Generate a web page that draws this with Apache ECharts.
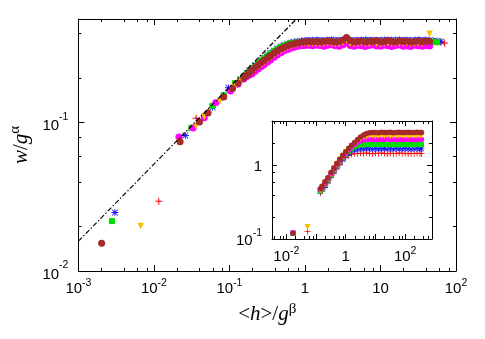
<!DOCTYPE html>
<html><head><meta charset="utf-8">
<script src="https://cdn.jsdelivr.net/npm/echarts@6/dist/echarts.min.js"></script>
<style>html,body{margin:0;padding:0;background:#fff}#c{width:485px;height:339px}</style>
</head><body><div id="c"></div>
<script>
// ---------------- main panel data ----------------
const lateX = [0.2,0.22,0.24,0.265,0.29,0.32,0.35,0.39,0.43,0.48,0.53,0.59,0.65,0.72,0.8,0.9,1.0,1.12,1.26,1.41,1.58,1.78,2.0,2.24,2.51,2.82,3.16,3.55,3.98,4.47,5.01,5.62,6.31,7.08,7.94,8.91,10,11.2,12.6,14.1,15.8,17.8,20,22.4,25.1,28.2,31.6,35.5,39.8,44.7,50.1,56.2,63.1,70.8,79.4];

const redEarlyX = [0.0116,0.0362,0.052,0.075,0.103,0.13,0.155,0.17,0.185];
const redEarlyY = [0.0295,0.107,0.118,0.142,0.168,0.19,0.207,0.216,0.226];
const redLateY = [0.229,0.24,0.25,0.26,0.27,0.281,0.291,0.302,0.312,0.321,0.329,0.336,0.341,0.345,0.348,0.35,0.352,0.353,0.352,0.354,0.353,0.351,0.354,0.355,0.353,0.352,0.354,0.356,0.353,0.351,0.354,0.353,0.355,0.352,0.354,0.353,0.351,0.355,0.353,0.354,0.352,0.355,0.353,0.354,0.351,0.353,0.355,0.352,0.354,0.353,0.351,0.35,0.348,0.345,null];

const blueEarlyX = [0.00304,0.026,0.04,0.0596,0.084,0.097,0.119,0.14,0.155,0.17,0.185];
const blueEarlyY = [0.0248,0.082,0.103,0.127,0.152,0.172,0.18,0.196,0.205,0.215,0.225];
const blueLateY = [0.232,0.243,0.253,0.264,0.274,0.285,0.295,0.306,0.316,0.326,0.334,0.341,0.346,0.35,0.353,0.356,0.358,0.36,0.359,0.361,0.36,0.358,0.361,0.362,0.36,0.359,0.361,0.363,0.36,0.358,0.361,0.36,0.362,0.359,0.361,0.36,0.358,0.362,0.36,0.361,0.359,0.362,0.36,0.361,0.358,0.36,0.362,0.359,0.361,0.36,0.356,0.354,0.352,null,null];

const greenEarlyX = [0.00278,0.0312,0.0463,0.0596,0.084,0.119,0.14,0.155,0.17,0.185];
const greenEarlyY = [0.0217,0.0925,0.11,0.13,0.153,0.185,0.195,0.203,0.213,0.222];
const greenLateY = [0.23,0.241,0.251,0.262,0.272,0.283,0.293,0.304,0.314,0.323,0.331,0.338,0.343,0.345,0.347,0.349,0.35,0.351,0.35,0.352,0.351,0.349,0.352,0.353,0.351,0.35,0.352,0.355,0.351,0.349,0.352,0.351,0.353,0.35,0.352,0.351,0.349,0.353,0.351,0.352,0.35,0.353,0.351,0.352,0.349,0.351,0.353,0.35,0.352,0.351,0.35,0.349,null,null,null];

const magentaEarlyX = [0.0214,0.033,0.0463,0.0658,0.103,0.13,0.155,0.17,0.185];
const magentaEarlyY = [0.080,0.092,0.108,0.136,0.1637,0.182,0.197,0.205,0.21];
const magentaLateY = [0.214,0.222,0.23,0.239,0.247,0.256,0.265,0.276,0.286,0.296,0.305,0.312,0.318,0.323,0.327,0.33,0.332,0.333,0.33,0.334,0.331,0.328,0.333,0.335,0.33,0.328,0.334,0.345,0.332,0.327,0.333,0.33,0.326,0.332,0.335,0.329,0.327,0.333,0.33,0.326,0.332,0.334,0.328,0.33,0.326,0.333,0.33,0.327,0.331,0.329,null,null,null,null,null];

const yellowEarlyX = [0.00667,0.0214,0.036,0.0463,0.075,0.119,0.14,0.155,0.17,0.185];
const yellowEarlyY = [0.0201,0.0735,0.095,0.1095,0.14,0.177,0.19,0.2,0.208,0.215];
const yellowLateY = [0.22,0.229,0.237,0.247,0.256,0.265,0.275,0.286,0.296,0.306,0.314,0.321,0.327,0.332,0.336,0.338,0.34,0.341,0.34,0.342,0.339,0.341,0.343,0.34,0.338,0.341,0.346,0.36,0.342,0.338,0.341,0.343,0.339,0.341,0.344,0.34,0.338,0.342,0.345,0.34,0.339,0.342,0.341,0.344,0.339,0.342,0.343,0.34,0.348,0.398,null,null,null,null,null];

const brownEarlyX = [0.00203,0.0222,0.04,0.052,0.084,0.11,0.13,0.155,0.17,0.185];
const brownEarlyY = [0.0154,0.0745,0.101,0.116,0.149,0.17,0.185,0.2,0.209,0.218];
const brownLateY = [0.226,0.236,0.245,0.255,0.264,0.274,0.284,0.295,0.305,0.315,0.323,0.33,0.336,0.341,0.345,0.348,0.35,0.352,0.351,0.353,0.35,0.352,0.355,0.353,0.35,0.352,0.36,0.375,0.358,0.35,0.352,0.355,0.35,0.354,0.352,0.358,0.35,0.353,0.358,0.352,0.35,0.355,0.352,0.356,0.35,0.353,0.355,0.351,0.354,0.352,null,null,null,null,null];

// reference power-law line (dash-dot), end points
const fitLineX = [0.001, 0.77];
const fitLineY = [0.0159, 0.5];

// ---------------- inset data ----------------
const insetX = [0.0168,0.052,0.14,0.16,0.2,0.25,0.32,0.4,0.5,0.63,0.79,1,1.26,1.58,2,2.51,3.16,3.98,5.01,6.31,7.94,10,12.6,15.8,20,25.1,31.6,39.8,50.1,63.1,79.4,100,126,158,200,251,316,355];
const redInsetY = [null,0.126,0.42,0.45,0.5,0.58,0.68,0.78,0.9,1.02,1.15,1.27,1.36,1.41,1.44,1.45,1.46,1.44,1.47,1.45,1.43,1.46,1.44,1.47,1.45,1.43,1.46,1.44,1.45,1.47,1.44,1.46,1.43,1.45,1.44,1.46,1.45,1.44];
const blueInsetY = [0.121,null,0.44,0.47,0.53,0.61,0.72,0.83,0.95,1.08,1.21,1.34,1.46,1.56,1.62,1.66,1.68,1.67,1.69,1.68,1.66,1.69,1.67,1.68,1.7,1.67,1.68,1.66,1.69,1.68,1.67,1.69,1.68,1.66,1.68,1.69,1.67,1.68];
const greenInsetY = [0.119,null,0.45,0.48,0.55,0.63,0.74,0.86,0.98,1.12,1.26,1.4,1.54,1.67,1.78,1.85,1.9,1.92,1.91,1.93,1.92,1.9,1.93,1.91,1.92,1.94,1.91,1.92,1.9,1.93,1.92,1.91,1.93,1.92,1.9,1.92,1.93,1.91];
const magentaInsetY = [0.122,null,0.47,0.5,0.57,0.65,0.77,0.89,1.02,1.16,1.31,1.46,1.62,1.78,1.93,2.06,2.16,2.22,2.24,2.26,2.25,2.23,2.26,2.24,2.25,2.27,2.24,2.25,2.23,2.26,2.25,2.24,2.26,2.25,2.23,2.25,2.26,2.24];
const yellowInsetY = [null,0.146,0.46,0.51,0.58,0.66,0.78,0.91,1.04,1.19,1.34,1.5,1.66,1.83,2.0,2.16,2.3,2.4,2.46,2.5,2.52,2.49,2.51,2.53,2.5,2.52,2.49,2.51,2.53,2.5,2.52,2.51,2.49,2.52,2.5,2.53,2.51,2.55];
const brownInsetY = [0.12,null,0.48,0.52,0.6,0.68,0.8,0.92,1.06,1.21,1.37,1.53,1.7,1.87,2.05,2.24,2.42,2.58,2.7,2.76,2.79,2.8,2.78,2.81,2.79,2.8,2.82,2.78,2.8,2.81,2.79,2.8,2.82,2.79,2.8,2.81,2.79,2.8];

// minor tick values (log axes, 2,4,6,8 per decade)
const mainMinorX = [0.002,0.004,0.006,0.008,0.02,0.04,0.06,0.08,0.2,0.4,0.6,0.8,2,4,6,8,20,40,60,80];
const mainMinorY = [0.02,0.04,0.06,0.08,0.2,0.4];
const insetMinorX = [0.004,0.006,0.008,0.02,0.04,0.06,0.08,0.2,0.4,0.6,0.8,2,4,6,8,20,40,60,80,200,400,600];
const insetMinorY = [0.2,0.4,0.6,0.8,2];

const mainXRange = [0.001, 100], mainYRange = [0.01, 0.5];
const insetXRange = [0.0033, 800], insetYRange = [0.1, 4];

// ---------------- build ----------------
function pairs(xs, ys) {
  const out = [];
  xs.forEach((x, i) => { if (ys[i] != null) out.push([x, ys[i]]); });
  return out;
}
const plusPath = 'path://M4.3,0H5.7V4.3H10V5.7H5.7V10H4.3V5.7H0V4.3H4.3Z';
const starPath = 'path://M4.4,0H5.6V4.4H10V5.6H5.6V10H4.4V5.6H0V4.4H4.4Z M1.2,0.4L5,4.2L8.8,0.4L9.6,1.2L5.8,5L9.6,8.8L8.8,9.6L5,5.8L1.2,9.6L0.4,8.8L4.2,5L0.4,1.2Z';

const defs = [
  {color:'#ff0000', symbol:plusPath, size:7, isz:6, rot:0, ex:redEarlyX, ey:redEarlyY, ly:redLateY, iy:redInsetY},
  {color:'#1010ff', symbol:starPath, size:7, isz:6, rot:0, ex:blueEarlyX, ey:blueEarlyY, ly:blueLateY, iy:blueInsetY},
  {color:'#00e000', symbol:'rect', size:6, isz:5, rot:0, ex:greenEarlyX, ey:greenEarlyY, ly:greenLateY, iy:greenInsetY},
  {color:'#ff00ff', symbol:'circle', size:7, isz:5.5, rot:0, ex:magentaEarlyX, ey:magentaEarlyY, ly:magentaLateY, iy:magentaInsetY},
  {color:'#f5c000', symbol:'triangle', size:6.5, isz:6, rot:180, ex:yellowEarlyX, ey:yellowEarlyY, ly:yellowLateY, iy:yellowInsetY},
  {color:'#a52a2a', symbol:'circle', size:7, isz:5.5, rot:0, ex:brownEarlyX, ey:brownEarlyY, ly:brownLateY, iy:brownInsetY}
];

const series = [];
defs.forEach(d => {
  series.push({
    type:'scatter', xAxisIndex:0, yAxisIndex:0, symbol:d.symbol, symbolSize:d.size, symbolRotate:d.rot,
    itemStyle:{color:d.color, opacity:1}, silent:true,
    data: pairs(d.ex, d.ey).concat(pairs(lateX, d.ly))
  });
});
defs.forEach(d => {
  series.push({
    type:'scatter', xAxisIndex:2, yAxisIndex:2, symbol:d.symbol, symbolSize:d.isz, symbolRotate:d.rot,
    itemStyle:{color:d.color, opacity:1}, silent:true,
    data: pairs(insetX, d.iy)
  });
});
series.push({
  type:'line', xAxisIndex:0, yAxisIndex:0, symbol:'none', silent:true, z:5,
  lineStyle:{color:'#000', width:1.2, type:[5,2,1.5,2]},
  data: pairs(fitLineX, fitLineY)
});

function minorTickSeries(xi, yi, xs, ys, xr, yr, len) {
  const data = xs.map(v => [v, yr[0], 0]).concat(ys.map(v => [xr[0], v, 1]));
  return {
    type:'custom', xAxisIndex:xi, yAxisIndex:yi, silent:true, clip:false, z:6,
    dimensions:['x','y','k'], encode:{x:0, y:1},
    data,
    renderItem(params, api) {
      const k = api.value(2);
      const st = {stroke:'#000', lineWidth:1};
      if (k === 0) {
        const v = api.value(0);
        const a = api.coord([v, yr[0]]), b = api.coord([v, yr[1]]);
        const x = Math.round(a[0]) + 0.5;
        return {type:'group', children:[
          {type:'line', shape:{x1:x, y1:a[1], x2:x, y2:a[1]-len}, style:st},
          {type:'line', shape:{x1:x, y1:b[1], x2:x, y2:b[1]+len}, style:st}
        ]};
      } else {
        const v = api.value(1);
        const a = api.coord([xr[0], v]), b = api.coord([xr[1], v]);
        const y = Math.round(a[1]) + 0.5;
        return {type:'group', children:[
          {type:'line', shape:{x1:a[0], y1:y, x2:a[0]+len, y2:y}, style:st},
          {type:'line', shape:{x1:b[0], y1:y, x2:b[0]-len, y2:y}, style:st}
        ]};
      }
    }
  };
}
series.push(minorTickSeries(0, 0, mainMinorX, mainMinorY, mainXRange, mainYRange, 3));
series.push(minorTickSeries(2, 2, insetMinorX, insetMinorY, insetXRange, insetYRange, 3));

function logLabel(v, skipOdd) {
  const lg = Math.log10(v), e = Math.round(lg);
  if (Math.abs(lg - e) > 1e-6) return '';
  if (skipOdd && e % 2 !== 0) return '';
  if (e === 0) return '{b|1}';
  if (e === 1) return '{b|10}';
  return '{b|10}{s|' + e + '}';
}
const FONT = 'Liberation Sans';
const richX = {
  b:{fontSize:15, fontFamily:FONT, color:'#000', lineHeight:22},
  s:{fontSize:10.5, fontFamily:FONT, color:'#000', lineHeight:10, verticalAlign:'top'}
};
const lineSt = {lineStyle:{color:'#000', width:1}};
function xAx(grid, pos, range, showLabel, skipOdd, tickLen, extra) {
  return Object.assign({
    type:'log', logBase:10, gridIndex:grid, position:pos, min:range[0], max:range[1],
    axisLine:Object.assign({show:true, onZero:false}, lineSt),
    axisTick:{show:true, inside:true, length:tickLen, lineStyle:{color:'#000'}},
    splitLine:{show:false},
    axisLabel:{show:showLabel, margin:7, formatter:v => logLabel(v, skipOdd), rich:richX, showMinLabel:true, showMaxLabel:true, hideOverlap:false}
  }, extra || {});
}
function yAx(grid, pos, range, showLabel, skipOdd, tickLen, pad, extra) {
  const richY = {
    b:{fontSize:15, fontFamily:FONT, color:'#000', lineHeight:22, padding:[pad,0,0,0]},
    s:{fontSize:10.5, fontFamily:FONT, color:'#000', lineHeight:10, verticalAlign:'top'}
  };
  return Object.assign({
    type:'log', logBase:10, gridIndex:grid, position:pos, min:range[0], max:range[1],
    axisLine:Object.assign({show:true, onZero:false}, lineSt),
    axisTick:{show:true, inside:true, length:tickLen, lineStyle:{color:'#000'}},
    splitLine:{show:false},
    axisLabel:{show:showLabel, margin:10, formatter:v => logLabel(v, skipOdd), rich:richY, hideOverlap:false}
  }, extra || {});
}
const SERIF = 'Liberation Serif';
const nameRich = {
  r:{fontSize:21, fontFamily:SERIF, color:'#000', lineHeight:26},
  i:{fontSize:21, fontFamily:SERIF, fontStyle:'italic', color:'#000', lineHeight:26},
  s:{fontSize:15, fontFamily:SERIF, color:'#000', lineHeight:14, verticalAlign:'top'}
};

const option = {
  animation:false,
  backgroundColor:'#fff',
  grid:[
    {left:70, right:29, top:19, bottom:68},
    {left:272, right:53, top:121, bottom:100, show:true, backgroundColor:'#fff', borderWidth:0}
  ],
  xAxis:[
    xAx(0, 'bottom', mainXRange, true, false, 6, {name:'{r|<}{i|h}{r|>/}{i|g}{s|β}', nameLocation:'middle', nameGap:30, nameTextStyle:{rich:nameRich}}),
    xAx(0, 'top', mainXRange, false, false, 6),
    xAx(1, 'bottom', insetXRange, true, true, 5),
    xAx(1, 'top', insetXRange, false, true, 5)
  ],
  yAxis:[
    yAx(0, 'left', mainYRange, true, false, 6, 7, {name:'{i|w}{r|/}{i|g}{s|α}', nameLocation:'middle', nameGap:37, nameTextStyle:{rich:nameRich}}),
    yAx(0, 'right', mainYRange, false, false, 6, 0),
    yAx(1, 'left', insetYRange, true, false, 5, 4),
    yAx(1, 'right', insetYRange, false, false, 5, 0)
  ],
  series
};
const chart = echarts.init(document.getElementById('c'), null, {renderer:'canvas'});
chart.setOption(option);
</script></body></html>
